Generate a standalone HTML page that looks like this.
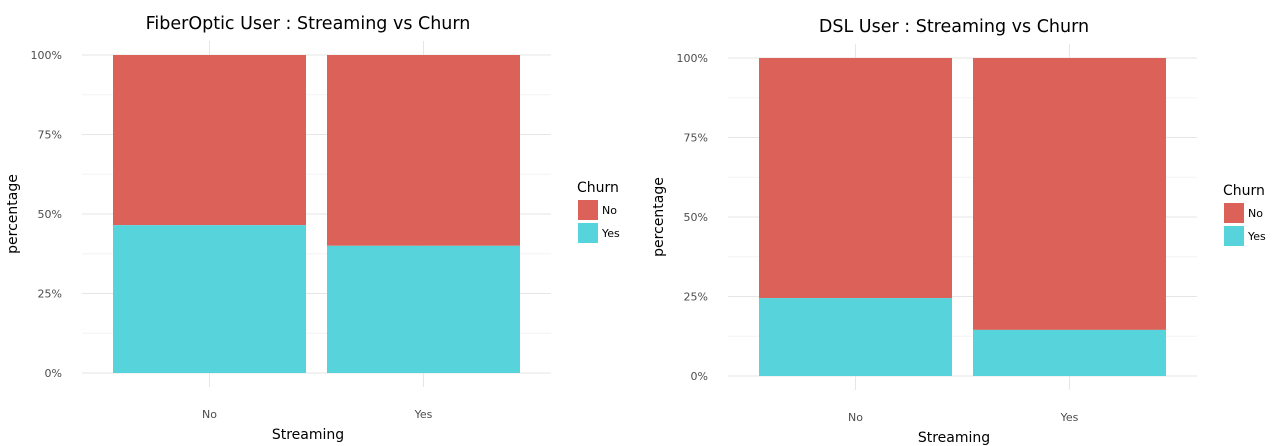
<!DOCTYPE html>
<html><head><meta charset="utf-8"><style>body{margin:0;background:#fff}svg{display:block;font-family:"DejaVu Sans","Liberation Sans",sans-serif}</style></head>
<body>
<svg id="c" width="1280" height="446"></svg>
<script>
const categories = ["No", "Yes"];
const fiberYes = [0.465, 0.40];
const dslYes = [0.245, 0.145];
const tickLabels = ["0%", "25%", "50%", "75%", "100%"];
const tickValues = [0, 0.25, 0.5, 0.75, 1];
const NS = "http://www.w3.org/2000/svg";
const svg = document.getElementById("c");
function mk(tag, attrs, parent, text) {
  const e = document.createElementNS(NS, tag);
  for (const k in attrs) e.setAttribute(k, attrs[k]);
  if (text !== undefined) e.textContent = text;
  (parent || svg).appendChild(e);
  return e;
}
const RED = "#DC6158", CYAN = "#56D3DB";
function panel(cfg) {
  const g = mk("g", {});
  
  
  const y = v => cfg.y0 - v * (cfg.y0 - cfg.y1);
  const bw = 193, step = 214, firstC = cfg.x0 + 31 + bw / 2;
  const xc = i => firstC + i * step;
  for (let i = 0; i < 4; i++) mk("line", {x1: cfg.x0, x2: cfg.x0 + 469, y1: y(0.125 + i * 0.25), y2: y(0.125 + i * 0.25), stroke: "#f3f3f3", "stroke-width": 1}, g);
  tickValues.forEach((v, i) => {
    mk("line", {x1: cfg.x0, x2: cfg.x0 + 469, y1: y(v), y2: y(v), stroke: "#e6e6e6", "stroke-width": 1}, g);
    const t = mk("text", {x: cfg.x0 - 20, y: y(v) + 4, "text-anchor": "end", "font-size": 11, fill: "#4d4d4d"}, g, tickLabels[i]);
    
    
  });
  categories.forEach((c, i) => {
    mk("line", {x1: xc(i), x2: xc(i), y1: cfg.y1 - 14, y2: cfg.y0 + 14, stroke: "#e6e6e6"}, g);
  });
  categories.forEach((c, i) => {
    const v = cfg.data[i];
    const r = mk("rect", {x: xc(i) - bw / 2, y: y(1), width: bw, height: y(v) - y(1), fill: RED}, g);
    
    
    const b = mk("rect", {x: xc(i) - bw / 2, y: y(v), width: bw, height: y(0) - y(v), fill: CYAN}, g);
    
    
    const t = mk("text", {x: xc(i), y: cfg.y0 + 45, "text-anchor": "middle", "font-size": 11, fill: "#4d4d4d"}, g, c);
    
    
  });
  const tt = mk("text", {x: cfg.x0 + 226, y: cfg.y1 - 26, "text-anchor": "middle", "font-size": 17.5}, g, cfg.title);
  
  
  const xt = mk("text", {x: cfg.x0 + 226, y: cfg.y0 + 66, "text-anchor": "middle", "font-size": 14}, g, "Streaming");
  
  
  const yt = mk("text", {x: 0, y: 0, "text-anchor": "middle", "font-size": 14, transform: `translate(${cfg.x0 - 65},${(cfg.y0 + cfg.y1) / 2}) rotate(-90)`}, g, "percentage");
  
  
  const lx = cfg.x0 + 496, ly = (cfg.y0 + cfg.y1) / 2;
  const lg = mk("g", {}, g);
  
  
  mk("text", {x: lx - 1, y: ly - 22, "font-size": 14}, lg, "Churn");
  mk("rect", {x: lx, y: ly - 14, width: 20, height: 20, fill: RED}, lg);
  mk("text", {x: lx + 24, y: ly, "font-size": 11}, lg, "No");
  mk("rect", {x: lx, y: ly + 9, width: 20, height: 20, fill: CYAN}, lg);
  mk("text", {x: lx + 24, y: ly + 23, "font-size": 11}, lg, "Yes");
}
panel({name: "fiberoptic-panel", title: "FiberOptic User : Streaming vs Churn", x0: 82, y0: 373, y1: 55, data: fiberYes});
panel({name: "dsl-panel", title: "DSL User : Streaming vs Churn", x0: 728, y0: 376, y1: 58, data: dslYes});
</script>
</body></html>
